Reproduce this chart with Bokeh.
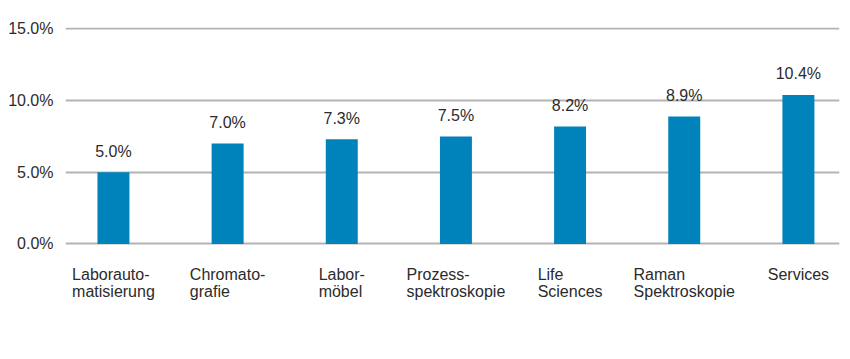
from bokeh.plotting import figure
from bokeh.models import Range1d, FixedTicker, PrintfTickFormatter, ColumnDataSource
from bokeh.core.properties import value
from bokeh.embed import file_html
from bokeh.resources import INLINE

categories = ["Laborauto-\nmatisierung", "Chromato-\ngrafie", "Labor-\nmöbel",
              "Prozess-\nspektroskopie", "Life\nSciences", "Raman\nSpektroskopie", "Services"]
growth = [5.0, 7.0, 7.3, 7.5, 8.2, 8.9, 10.4]
y_ticks = [0, 5, 10, 15]

FONT = "Liberation Sans"
FS = 16
TXT = "#2b2b2b"

# approximate Arial advance widths (1/1000 em) to centre left-aligned label blocks
W = dict(zip("abcdefghijklmnopqrstuvwxyzö", [556, 556, 500, 556, 556, 278, 556, 556, 222, 222, 500, 222, 833,
                                              556, 556, 556, 556, 333, 500, 278, 556, 500, 722, 500, 500, 500, 556]))
W.update({"L": 556, "C": 722, "P": 667, "S": 667, "R": 722, "-": 333, " ": 278})


def block_width(s):
    return max(sum(W.get(ch, 556) for ch in line) for line in s.split("\n")) * FS / 1000


idx = list(range(len(categories)))
src = ColumnDataSource(dict(x=idx, y=growth, lab=[f"{v:.1f}%" for v in growth]))
cat_src = ColumnDataSource(dict(x=idx, y=[0] * len(idx), text=categories,
                                xo=[-block_width(c) / 2 for c in categories]))

p = figure(width=842, height=351, output_backend="svg", toolbar_location=None,
           x_axis_location=None,
           x_range=Range1d(-0.42, 6.36), y_range=Range1d(-7.5, 15.1),
           min_border_left=65, min_border_right=3, min_border_top=27, min_border_bottom=0)
p.outline_line_color = None

p.vbar(x="x", top="y", bottom=0, width=0.28, source=src, fill_color="#0082BA", line_color=None)
p.text(x="x", y="y", text="lab", source=src, text_align="center", text_baseline="alphabetic",
       y_offset=-21, text_font=value(FONT), text_font_size=f"{FS}px", text_color=TXT)
p.text(x="x", y="y", text="text", source=cat_src, x_offset="xo", y_offset=22,
       text_align="left", text_baseline="top", text_font=value(FONT),
       text_font_size=f"{FS}px", text_color=TXT, text_line_height=1.03)

p.xgrid.grid_line_color = None
p.ygrid.ticker = FixedTicker(ticks=y_ticks)
p.ygrid.grid_line_color = "#b3b3b3"
p.ygrid.grid_line_width = 2

p.yaxis.ticker = FixedTicker(ticks=y_ticks)
p.yaxis.formatter = PrintfTickFormatter(format="%.1f%%")

ax = p.yaxis[0]
ax.axis_line_color = None
ax.major_tick_line_color = None
ax.minor_tick_line_color = None
ax.major_tick_out = 0
ax.major_tick_in = 0
ax.major_label_text_font = FONT
ax.major_label_text_font_size = f"{FS}px"
ax.major_label_text_color = TXT
ax.major_label_standoff = 12

open("out.html", "w").write(file_html(p, INLINE))
